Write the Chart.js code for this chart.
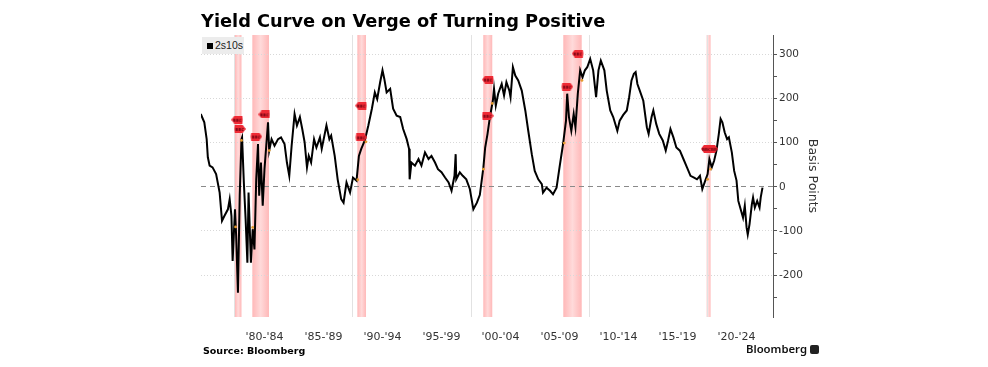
<!DOCTYPE html>
<html>
<head>
<meta charset="utf-8">
<script src="https://cdn.jsdelivr.net/npm/chart.js@4.4.1/dist/chart.umd.min.js"></script>
<style>
  html, body { margin: 0; padding: 0; background: #fff; }
  .wrap { position: relative; width: 988px; height: 367px; overflow: hidden; }
  #yc { position: absolute; left: 0; top: 0; }
  .title {
    position: absolute; left: 201px; top: 11px;
    font: bold 17.8px "DejaVu Sans", sans-serif; color: #000; line-height: 20px;
  }
  .legend {
    position: absolute; left: 202px; top: 37px; width: 42px; height: 17px;
    background: #ececec; font: 10.5px "Liberation Sans", sans-serif; color: #222;
    line-height: 17px; white-space: nowrap;
  }
  .legend i { display: inline-block; width: 6px; height: 6px; background: #000; margin: 0 2px 0 5px; }
  .source {
    position: absolute; left: 203px; top: 345px;
    font: bold 9.5px "DejaVu Sans", sans-serif; color: #000;
  }
  .brand {
    position: absolute; left: 746px; top: 342px;
    font: 600 11.3px "Noto Sans", sans-serif; color: #111; line-height: 14px;
  }
  .brand b {
    display: inline-block; width: 9px; height: 9px; background: #222; border-radius: 2px;
    margin-left: 3px; vertical-align: -1px;
  }
</style>
</head>
<body>
<div class="wrap">
  <canvas id="yc" width="988" height="367"></canvas>
  <div class="title">Yield Curve on Verge of Turning Positive</div>
  <div class="legend"><i></i>2s10s</div>
  <div class="source">Source: Bloomberg</div>
  <div class="brand">Bloomberg<b></b></div>
</div>

<script>
  // 2s10s spread (basis points)
  var years = [1977.1, 1977.4, 1977.6, 1977.7, 1977.85, 1978.1, 1978.4, 1978.7, 1978.9, 1979.1,
    1979.4, 1979.55, 1979.7, 1979.8, 1980.0, 1980.1, 1980.25, 1980.4, 1980.55, 1980.6,
    1980.75, 1980.9, 1981.05, 1981.15, 1981.35, 1981.5, 1981.65, 1981.8, 1981.95, 1982.05,
    1982.2, 1982.35, 1982.5, 1982.65, 1982.8, 1982.9, 1983.1, 1983.35, 1983.65, 1983.9,
    1984.2, 1984.4, 1984.6, 1984.8, 1985.05, 1985.25, 1985.5, 1985.7, 1985.9, 1986.1,
    1986.25, 1986.45, 1986.7, 1986.9, 1987.2, 1987.35, 1987.75, 1988.0, 1988.15, 1988.45,
    1988.7, 1989.0, 1989.2, 1989.45, 1989.75, 1990.0, 1990.3, 1990.5, 1990.7, 1991.0,
    1991.3, 1991.6, 1991.85, 1992.05, 1992.3, 1992.5, 1992.65, 1992.85, 1993.15, 1993.4,
    1993.7, 1994.0, 1994.25, 1994.55, 1994.75, 1994.8, 1994.95, 1995.25, 1995.55, 1995.8,
    1996.1, 1996.4, 1996.65, 1996.95, 1997.2, 1997.5, 1997.8, 1998.1, 1998.35, 1998.6,
    1998.7, 1998.75, 1999.05, 1999.3, 1999.6, 1999.9, 2000.2, 2000.5, 2000.75, 2001.05,
    2001.2, 2001.4, 2001.6, 2001.85, 2001.95, 2002.1, 2002.3, 2002.6, 2002.8, 2003.0,
    2003.25, 2003.35, 2003.55, 2003.75, 2004.0, 2004.3, 2004.6, 2004.85, 2005.15, 2005.4,
    2005.7, 2006.0, 2006.1, 2006.4, 2006.7, 2006.95, 2007.25, 2007.5, 2007.8, 2008.05,
    2008.15, 2008.3, 2008.5, 2008.7, 2008.85, 2009.05, 2009.25, 2009.45, 2009.65, 2009.85,
    2010.1, 2010.35, 2010.6, 2010.8, 2011.0, 2011.3, 2011.5, 2011.8, 2012.05, 2012.4,
    2012.6, 2012.9, 2013.2, 2013.4, 2013.6, 2013.8, 2013.95, 2014.1, 2014.3, 2014.6,
    2014.9, 2015.05, 2015.3, 2015.45, 2015.7, 2015.95, 2016.25, 2016.5, 2016.7, 2016.9,
    2017.15, 2017.4, 2017.7, 2018.0, 2018.3, 2018.6, 2018.9, 2019.15, 2019.4, 2019.6,
    2019.85, 2020.05, 2020.2, 2020.4, 2020.6, 2020.8, 2021.0, 2021.15, 2021.3, 2021.5,
    2021.7, 2021.85, 2022.1, 2022.3, 2022.5, 2022.65, 2022.85, 2023.05, 2023.2, 2023.35,
    2023.45, 2023.6, 2023.8, 2023.9, 2024.05, 2024.25, 2024.45, 2024.55, 2024.7];
  var spread = [165, 146, 108, 67, 48, 44, 29, -13, -77, -66,
    -51, -28, -66, -168, -51, -111, -240, -20, 108, 112,
    10, -73, -172, -13, -172, -96, -142, 17, 97, -20,
    55, -43, 40, 93, 146, 82, 108, 93, 108, 112,
    97, 55, 25, 93, 165, 139, 158, 131, 101, 44,
    70, 55, 108, 89, 112, 86, 139, 108, 116, 70,
    17, -28, -36, 10, -13, 21, 14, 70, 86, 105,
    139, 177, 214, 199, 237, 264, 245, 214, 222, 177,
    161, 158, 131, 108, 86, 17, 55, 48, 63, 48,
    78, 63, 70, 55, 40, 33, 21, 10, -9, 25,
    74, 17, 33, 25, 17, -5, -51, -36, -18, 44,
    89, 120, 158, 195, 222, 184, 211, 233, 207, 237,
    218, 203, 271, 252, 241, 218, 173, 127, 74, 36,
    17, 6, -13, -2, -9, -17, -2, 44, 97, 150,
    211, 158, 127, 165, 135, 211, 264, 248, 264, 271,
    290, 264, 203, 264, 286, 264, 218, 173, 158, 127,
    150, 163, 173, 203, 241, 256, 260, 233, 218, 195,
    135, 120, 158, 173, 142, 120, 105, 82, 105, 131,
    112, 89, 82, 63, 44, 25, 21, 17, 25, -5,
    14, 29, 63, 44, 59, 82, 120, 154, 146, 123,
    108, 112, 78, 36, 14, -32, -51, -70, -43, -92,
    -108, -85, -39, -24, -47, -32, -47, -24, -2];

  // recession shading (start / end, fractional years)
  var recStart = [1980.0, 1981.47, 1990.37, 2001.04, 2007.82, 2019.97];
  var recEnd = [1980.55, 1982.88, 1991.1, 2001.8, 2009.38, 2020.3];

  // event tags and the small dots on the line
  var tagYears = [1980.2, 1980.4, 1981.8, 1982.5, 1990.7, 1990.7, 2001.45, 2001.4, 2008.15, 2009.05, 2020.2];
  var tagValues = [152, 131, 114, 164, 184, 112, 243, 161, 227, 302, 86];
  var dotYears = [1980.05, 1980.55, 1981.5, 1982.9, 1990.4, 1991.1, 2001.05, 2001.8, 2007.9, 2009.4, 2020.05, 2020.3];
  var dotValues = [-91, 105, -92, 82, 16, 102, 40, 189, 99, 241, 17, 40];

  // axes
  var xLabels = ["'80-'84", "'85-'89", "'90-'94", "'95-'99", "'00-'04", "'05-'09", "'10-'14", "'15-'19", "'20-'24"];
  var xLabelAt = [1982.5, 1987.5, 1992.5, 1997.5, 2002.5, 2007.5, 2012.5, 2017.5, 2022.5];
  var xGridAt = [1980, 1990, 2000, 2010, 2020];
  var yTicks = [-250, -200, -150, -100, -50, 0, 50, 100, 150, 200, 250, 300];

  var tagDir = ['L', 'R', 'R', 'L', 'L', 'R', 'L', 'R', 'R', 'L', 'B'];

  function makeTag(dir) {
    var w = dir == 'B' ? 17 : 12, h = 8;
    var c = document.createElement('canvas');
    c.width = w; c.height = h;
    var g = c.getContext('2d');
    g.fillStyle = '#ef2a35';
    g.beginPath();
    if (dir == 'L') {
      g.moveTo(0, h / 2); g.lineTo(3, 0); g.lineTo(w - 1, 0); g.quadraticCurveTo(w, h / 2, w - 1, h);
      g.lineTo(3, h);
    } else if (dir == 'R') {
      g.moveTo(1, 0); g.lineTo(w - 3, 0); g.lineTo(w, h / 2); g.lineTo(w - 3, h); g.lineTo(1, h);
      g.quadraticCurveTo(0, h / 2, 1, 0);
    } else {
      g.moveTo(0, h / 2); g.lineTo(3, 0); g.lineTo(w - 3, 0); g.lineTo(w, h / 2); g.lineTo(w - 3, h);
      g.lineTo(3, h);
    }
    g.closePath();
    g.fill();
    g.fillStyle = '#6d0010';
    g.font = 'bold 4px "DejaVu Sans"';
    g.textAlign = 'center';
    g.textBaseline = 'middle';
    g.fillText(dir == 'B' ? 'BBCBB' : 'BBC', w / 2, h / 2 + 0.5);
    return c;
  }
  var tagImg = { L: makeTag('L'), R: makeTag('R'), B: makeTag('B') };

  var recessions = {
    id: 'recessions',
    beforeDraw: function (chart) {
      var ctx = chart.ctx, a = chart.chartArea, x = chart.scales.x;
      ctx.save();
      for (var i = 0; i < recStart.length; i++) {
        var x0 = x.getPixelForValue(recStart[i]), x1 = x.getPixelForValue(recEnd[i]);
        var gr = ctx.createLinearGradient(x0, 0, x1, 0);
        gr.addColorStop(0, '#ffb8b8');
        gr.addColorStop(0.5, '#ffdada');
        gr.addColorStop(1, '#ffb8b8');
        ctx.fillStyle = gr;
        ctx.fillRect(x0, a.top, x1 - x0, a.bottom - a.top);
      }
      ctx.restore();
    }
  };

  var linePts = years.map(function (y, i) { return { x: y, y: spread[i] }; });
  var tagPts = tagYears.map(function (y, i) { return { x: y, y: tagValues[i] }; });
  var dotPts = dotYears.map(function (y, i) { return { x: y, y: dotValues[i] }; });

  new Chart(document.getElementById('yc'), {
    type: 'line',
    data: {
      datasets: [{
        label: '2s10s',
        data: tagPts,
        showLine: false,
        pointStyle: function (c) { return tagImg[tagDir[c.dataIndex]]; },
        pointRadius: 5,
        order: 0
      }, {
        label: 'dots',
        data: dotPts,
        showLine: false,
        pointRadius: 1.4,
        pointBackgroundColor: '#e39a2d',
        pointBorderWidth: 0,
        order: 1
      }, {
        label: '2s10s line',
        data: linePts,
        borderColor: '#000',
        borderWidth: 2,
        pointRadius: 0,
        tension: 0,
        order: 2
      }]
    },
    plugins: [recessions],
    options: {
      responsive: false,
      animation: false,
      events: [],
      layout: { padding: { left: 201, top: 35, right: 168, bottom: 0 } },
      plugins: { legend: { display: false }, tooltip: { enabled: false } },
      scales: {
        x: {
          type: 'linear',
          min: 1977.12,
          max: 2025.59,
          afterFit: function (s) { s.height = 50; },
          afterBuildTicks: function (s) {
            s.ticks = xGridAt.concat(xLabelAt).sort(function (a, b) { return a - b; })
              .map(function (v) { return { value: v }; });
          },
          border: { display: false },
          grid: {
            drawTicks: false,
            color: function (c) { return xGridAt.indexOf(c.tick && c.tick.value) >= 0 ? '#e2e2e2' : 'rgba(0,0,0,0)'; },
            lineWidth: 1
          },
          ticks: {
            autoSkip: false,
            maxRotation: 0,
            padding: 14,
            color: '#333',
            font: { family: 'DejaVu Sans', size: 11 },
            callback: function (v) {
              var i = xLabelAt.indexOf(v);
              return i >= 0 ? xLabels[i] : '';
            }
          }
        },
        y: {
          position: 'right',
          min: -295,
          max: 344,
          afterFit: function (s) { s.width = 47; },
          afterBuildTicks: function (s) {
            s.ticks = yTicks.map(function (v) { return { value: v }; });
          },
          border: {
            display: true, color: '#555', width: 1,
            dash: function (c) {
              if (!c.tick) return [];
              return c.tick.value === 0 ? [5, 4] : [1, 2];
            }
          },
          grid: {
            tickLength: 4,
            tickColor: '#555',
            color: function (c) {
              if (!c.tick) return 'rgba(0,0,0,0)';
              var v = c.tick.value;
              if (v === 0) return '#8a8a8a';
              return v % 100 === 0 ? '#d8d8d8' : 'rgba(0,0,0,0)';
            }
          },
          ticks: {
            padding: 2,
            color: '#333',
            font: { family: 'DejaVu Sans', size: 10.5 },
            callback: function (v) { return v % 100 === 0 ? String(v) : ''; }
          },
          title: {
            display: true,
            text: 'Basis Points',
            color: '#333',
            font: { family: 'DejaVu Sans', size: 12.5 },
            padding: 0
          }
        }
      }
    }
  });
</script>
</body>
</html>
